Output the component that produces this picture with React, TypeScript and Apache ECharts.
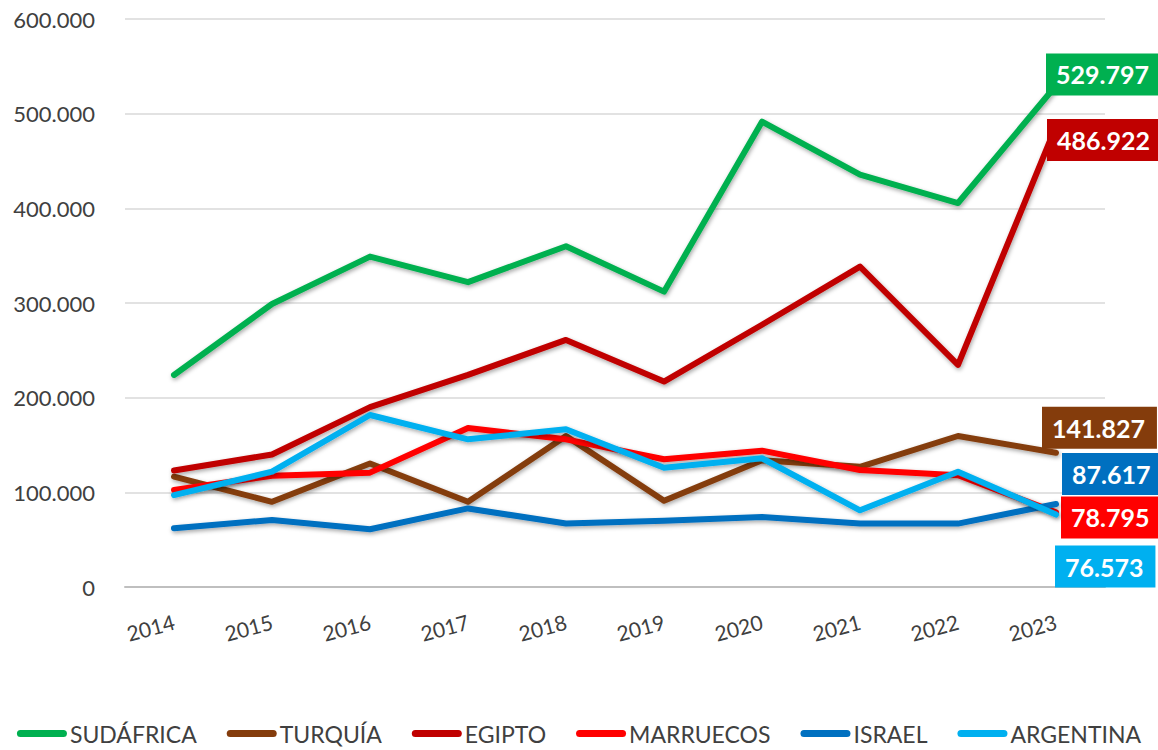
import React, { useEffect, useRef } from "react";
import * as echarts from "echarts";

const years = ["2014", "2015", "2016", "2017", "2018", "2019", "2020", "2021", "2022", "2023"];
const seriesNames = ["SUDÁFRICA", "TURQUÍA", "EGIPTO", "MARRUECOS", "ISRAEL", "ARGENTINA"];
const sudafrica = [224000, 299000, 349000, 322000, 360000, 312000, 491500, 435500, 405600, 529797];
const turquia = [116500, 90000, 130500, 90000, 159500, 91000, 134000, 127000, 159500, 141827];
const egipto = [123000, 140000, 190000, 224000, 261000, 217000, 277000, 338500, 234600, 486922];
const marruecos = [102500, 117600, 120800, 168000, 156000, 135000, 144000, 123600, 118000, 78795];
const israel = [62000, 70800, 61000, 83000, 67000, 70000, 74000, 67000, 67000, 87617];
const argentina = [97000, 121800, 181700, 156000, 166600, 126000, 136000, 81000, 121800, 76573];
const colors = ["#00B050", "#843C0C", "#C00000", "#FF0000", "#0070C0", "#00B0F0"];
const labelOffsets: [number, number][] = [
  [-10, -11],
  [-14, -25],
  [-9, 14],
  [5, 5],
  [6, -30],
  [-1, 52],
];

const fmt = (v: number) => {
  const s = Math.round(v).toString();
  return s.replace(/\B(?=(\d{3})+(?!\d))/g, ".");
};

const FONT = "Lato";

export default function App() {
  const ref = useRef<HTMLDivElement>(null);
  useEffect(() => {
    if (!ref.current) return;
    const chart = echarts.init(ref.current, null, { renderer: "svg" });
    const data = [sudafrica, turquia, egipto, marruecos, israel, argentina];
    chart.setOption({
      animation: false,
      backgroundColor: "#ffffff",
      grid: { left: 125, right: 53, top: 19, bottom: 163, containLabel: false },
      legend: {
        data: seriesNames,
        left: "center",
        top: 717,
        itemWidth: 50,
        itemHeight: 7,
        itemGap: 30,
        icon: "path://M3.5,0 H46.5 A3.5,3.5 0 0 1 46.5,7 H3.5 A3.5,3.5 0 0 1 3.5,0 Z",
        textStyle: { fontFamily: FONT, fontSize: 23, color: "#404040", padding: [0, 0, 0, -2] },
      },
      xAxis: {
        type: "category",
        data: years,
        boundaryGap: true,
        axisLine: { show: true, lineStyle: { color: "#BFBFBF", width: 2 } },
        axisTick: { show: false },
        axisLabel: {
          rotate: 15,
          margin: 34,
          fontFamily: FONT,
          fontSize: 21,
          color: "#404040",
        },
      },
      yAxis: {
        type: "value",
        min: 0,
        max: 600000,
        interval: 100000,
        axisLine: { show: false },
        axisTick: { show: false },
        splitLine: { lineStyle: { color: "#D9D9D9", width: 1.5 } },
        axisLabel: {
          margin: 30,
          fontFamily: FONT,
          fontSize: 22,
          color: "#404040",
          formatter: (v: number) => fmt(v),
        },
      },
      series: seriesNames.map((name, i) => ({
        name,
        type: "line",
        data: data[i],
        showSymbol: false,
        symbol: "none",
        color: colors[i],
        lineStyle: {
          color: colors[i],
          width: 6,
          cap: "round",
          join: "round",
          shadowColor: "rgba(0,0,0,0.35)",
          shadowBlur: 4,
          shadowOffsetX: 1,
          shadowOffsetY: 2,
        },
        endLabel: {
          show: true,
          formatter: (p: any) => fmt(Array.isArray(p.value) ? p.value[1] : p.value),
          color: "#ffffff",
          fontFamily: FONT,
          fontWeight: "bold",
          fontSize: 25,
          lineHeight: 30,
          backgroundColor: colors[i],
          padding: [6, 12, 6, 10],
          distance: 0,
          offset: labelOffsets[i],
        },
        z: 2 + i,
      })),
    });
    return () => chart.dispose();
  }, []);
  return (
    <div
      ref={ref}
      style={{ position: "absolute", left: 0, top: 0, width: 1158, height: 750 }}
    />
  );
}
